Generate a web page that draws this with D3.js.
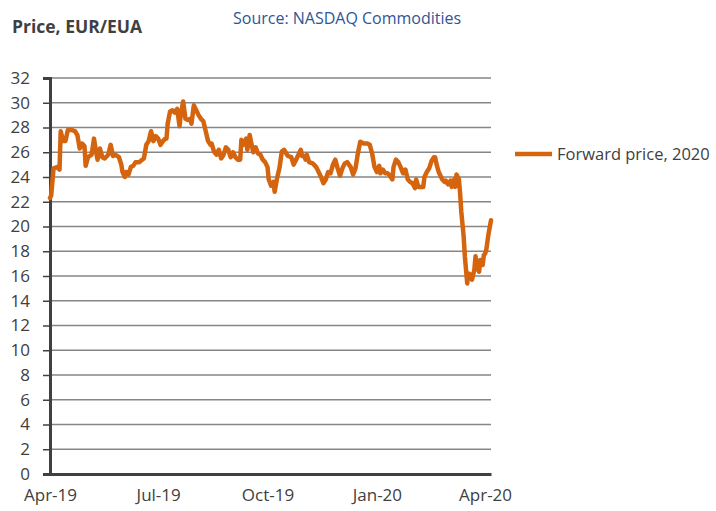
<!DOCTYPE html>
<html><head><meta charset="utf-8">
<script src="https://cdn.jsdelivr.net/npm/d3@7"></script>
<style>
html,body{margin:0;padding:0;background:#fff;}
svg{display:block;font-family:"Open Sans","Noto Sans",sans-serif;}
</style></head>
<body><svg id="c" width="716" height="511"></svg>
<script>
const dates = [
"2019-04-01","2019-04-02","2019-04-04","2019-04-07","2019-04-09","2019-04-10","2019-04-12","2019-04-14","2019-04-16","2019-04-19",
"2019-04-22","2019-04-24","2019-04-26","2019-04-28","2019-04-30","2019-05-01","2019-05-03","2019-05-06","2019-05-08","2019-05-10",
"2019-05-11","2019-05-13","2019-05-15","2019-05-17","2019-05-20","2019-05-22","2019-05-24","2019-05-26","2019-05-29","2019-05-31",
"2019-06-01","2019-06-03","2019-06-04","2019-06-06","2019-06-08","2019-06-10","2019-06-12","2019-06-15","2019-06-17","2019-06-19",
"2019-06-21","2019-06-23","2019-06-25","2019-06-27","2019-06-29","2019-07-01","2019-07-03","2019-07-05","2019-07-07","2019-07-08",
"2019-07-09","2019-07-11","2019-07-13","2019-07-15","2019-07-17","2019-07-19","2019-07-20","2019-07-22","2019-07-24","2019-07-26",
"2019-07-28","2019-07-29","2019-07-31","2019-08-02","2019-08-04","2019-08-06","2019-08-08","2019-08-09","2019-08-11","2019-08-12",
"2019-08-14","2019-08-15","2019-08-17","2019-08-19","2019-08-21","2019-08-23","2019-08-25","2019-08-27","2019-08-29","2019-08-31",
"2019-09-02","2019-09-04","2019-09-06","2019-09-08","2019-09-09","2019-09-11","2019-09-13","2019-09-14","2019-09-16","2019-09-17",
"2019-09-19","2019-09-21","2019-09-23","2019-09-25","2019-09-27","2019-09-29","2019-10-01","2019-10-02","2019-10-04","2019-10-06",
"2019-10-07","2019-10-09","2019-10-11","2019-10-13","2019-10-15","2019-10-18","2019-10-21","2019-10-23","2019-10-25","2019-10-26",
"2019-10-29","2019-10-30","2019-11-01","2019-11-02","2019-11-03","2019-11-05","2019-11-08","2019-11-11","2019-11-13","2019-11-15",
"2019-11-17","2019-11-19","2019-11-21","2019-11-23","2019-11-25","2019-11-27","2019-11-29","2019-12-01","2019-12-03","2019-12-05",
"2019-12-07","2019-12-10","2019-12-12","2019-12-14","2019-12-16","2019-12-18","2019-12-21","2019-12-24","2019-12-26","2019-12-28",
"2019-12-30","2020-01-01","2020-01-03","2020-01-04","2020-01-06","2020-01-08","2020-01-10","2020-01-12","2020-01-14","2020-01-15",
"2020-01-17","2020-01-19","2020-01-21","2020-01-23","2020-01-25","2020-01-27","2020-01-29","2020-01-31","2020-02-02","2020-02-03",
"2020-02-05","2020-02-07","2020-02-09","2020-02-10","2020-02-12","2020-02-14","2020-02-16","2020-02-18","2020-02-19","2020-02-20",
"2020-02-22","2020-02-23","2020-02-25","2020-02-27","2020-02-28","2020-03-01","2020-03-03","2020-03-04","2020-03-06","2020-03-07",
"2020-03-08","2020-03-10","2020-03-11","2020-03-12","2020-03-14","2020-03-15","2020-03-17","2020-03-18","2020-03-20","2020-03-21",
"2020-03-23","2020-03-24","2020-03-25","2020-03-27","2020-03-28","2020-03-30","2020-03-31","2020-04-01","2020-04-02","2020-04-04",
"2020-04-06"
];
const prices = [
22.3,22.5,24.7,24.8,24.6,27.7,26.9,26.9,27.8,27.8,
27.7,27.4,26.3,26.7,26.5,24.9,25.6,25.8,27.1,25.9,
25.4,26.3,25.6,25.5,25.8,26.6,25.7,25.8,25.6,25.0,
24.4,24.0,24.4,24.2,24.8,24.9,25.2,25.2,25.35,25.5,
26.6,26.9,27.7,26.9,27.3,27.1,26.6,26.9,27.1,27.1,
28.3,29.3,29.4,29.2,29.5,28.1,29.0,30.1,28.7,28.6,
28.7,28.3,29.8,29.4,29.0,28.7,28.5,28.1,27.3,26.9,
26.6,26.7,26.05,25.8,26.2,25.5,25.8,26.4,26.2,25.6,
26.0,25.6,25.4,25.4,27.0,26.6,27.1,26.2,27.4,26.9,
26.0,26.4,25.9,25.8,25.4,25.2,24.8,23.8,23.3,23.6,
22.8,23.9,24.7,26.05,26.2,25.7,25.6,25.0,25.4,25.6,
26.2,25.7,25.7,25.4,25.8,25.2,25.1,24.8,24.4,24.0,
23.5,23.8,24.4,24.3,25.0,25.4,24.7,24.1,24.7,25.1,
25.2,24.8,24.2,24.7,25.9,26.85,26.7,26.7,26.6,25.9,
24.8,24.4,24.9,24.3,24.6,24.3,24.3,24.1,23.8,24.8,
25.4,25.2,24.8,24.3,24.6,23.8,23.6,23.5,23.1,23.8,
23.2,23.2,23.2,24.0,24.4,24.7,25.3,25.6,25.6,25.1,
24.4,24.2,23.8,23.6,23.7,23.4,23.7,23.2,23.8,23.2,
24.2,23.8,22.7,21.2,19.2,17.6,15.4,16.2,16.1,15.7,
16.5,17.6,16.75,16.35,17.3,16.9,17.7,17.8,18.1,19.45,
20.5
];
const yTicks = [0,2,4,6,8,10,12,14,16,18,20,22,24,26,28,30,32];
const xTickDates = ["2019-04-01","2019-07-01","2019-10-01","2020-01-01","2020-04-01"];
const xTickLabels = ["Apr-19","Jul-19","Oct-19","Jan-20","Apr-20"];
const seriesName = "Forward price, 2020";
const titleText = "Price, EUR/EUA";
const sourceText = "Source: NASDAQ Commodities";

const parse = d3.timeParse("%Y-%m-%d");
const data = dates.map((d,i)=>({date:parse(d), v:prices[i]}));

const svg = d3.select("#c");
const x = d3.scaleTime().domain([parse("2019-04-01"), parse("2020-04-06")]).range([50, 491]);
const y = d3.scaleLinear().domain([0, 32]).range([474, 78]);
const lineColor = "#D5640E";
const textColor = "#404040";
const font = '"Open Sans", sans-serif';

// gridlines
svg.append("g").selectAll("line").data(yTicks.filter(t=>t>0)).join("line")
  .attr("x1", 50).attr("x2", 491)
  .attr("y1", d=>y(d)).attr("y2", d=>y(d))
  .attr("stroke", "#868686").attr("stroke-width", 1.5);

// y axis
const yAxis = d3.axisLeft(y).tickValues(yTicks).tickSize(7).tickPadding(13).tickFormat(d3.format("d"));
const gy = svg.append("g").attr("transform", "translate(50,0)").call(yAxis);
gy.select(".domain").attr("stroke", "#404040").attr("stroke-width", 3);
gy.selectAll(".tick line").attr("stroke", "#404040").attr("stroke-width", 1.5);
gy.selectAll(".tick text").attr("fill", textColor).style("font-size", "17px").style("font-family", font);

// x axis
const xAxis = d3.axisBottom(x).tickValues(xTickDates.map(parse)).tickSize(0).tickPadding(15)
  .tickFormat((d,i)=>xTickLabels[i]);
const gx = svg.append("g").attr("transform", "translate(0,474)").call(xAxis);
gx.select(".domain").attr("stroke", "#404040").attr("stroke-width", 3);
gx.selectAll(".tick text").attr("fill", textColor).style("font-size", "17px").style("font-family", font);

// line
const line = d3.line().x(d=>x(d.date)).y(d=>y(d.v)).curve(d3.curveLinear);
svg.append("path").datum(data).attr("d", line)
  .attr("fill", "none").attr("stroke", lineColor).attr("stroke-width", 4.5)
  .attr("stroke-linejoin", "round").attr("stroke-linecap", "round");

// legend
svg.append("line").attr("x1", 515).attr("x2", 552).attr("y1", 154).attr("y2", 154)
  .attr("stroke", lineColor).attr("stroke-width", 4.5);
svg.append("text").attr("x", 557).attr("y", 160).text(seriesName)
  .attr("fill", textColor).style("font-size", "16.5px");

// titles
svg.append("text").attr("x", 12).attr("y", 33).text(titleText)
  .attr("fill", textColor).style("font-size", "17.5px").style("font-weight", "bold");
svg.append("text").attr("x", 233).attr("y", 24).text(sourceText)
  .attr("fill", "#2F5597").style("font-size", "16px");
</script></body></html>
